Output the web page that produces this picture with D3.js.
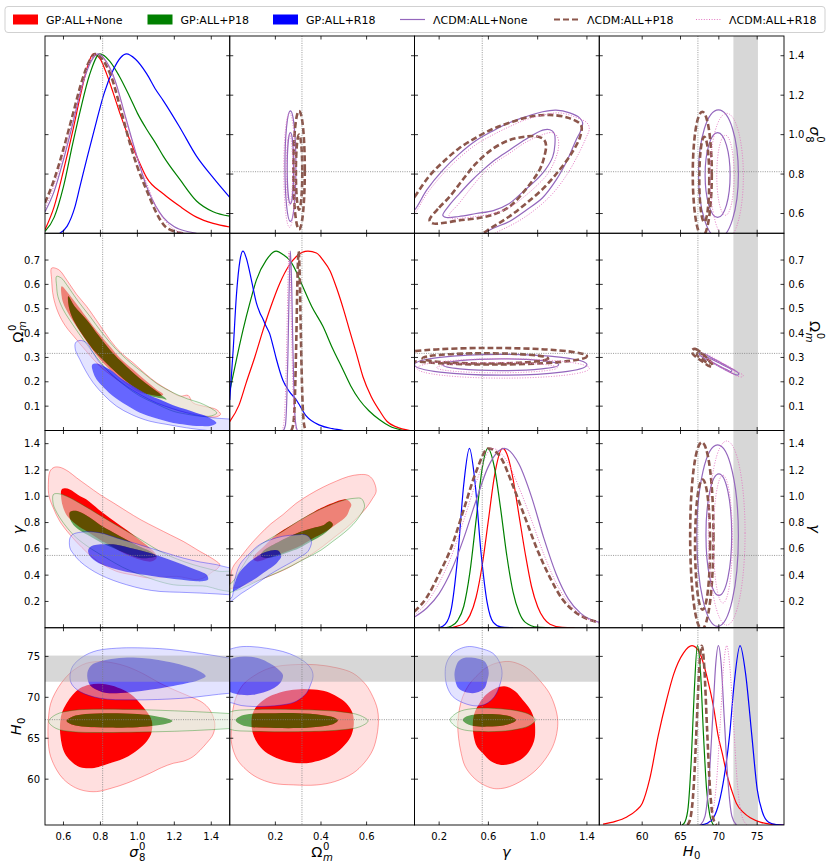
<!DOCTYPE html>
<html>
<head>
<meta charset="utf-8">
<script src="https://cdn.jsdelivr.net/npm/d3@7"></script>
<style>
  body { margin: 0; background: #fff; }
  svg { display: block; font-family: "DejaVu Sans", sans-serif; }
</style>
</head>
<body>
<svg id="chart" width="830" height="866"></svg>
<script>
// ---- axes ----
const params = ["s8", "om", "gamma", "H0"];
const domains = [[0.5, 1.5], [0, 0.81], [0, 1.5], [54.4, 78.5]];
const xTicks = [[0.6, 0.8, 1.0, 1.2, 1.4], [0.2, 0.4, 0.6], [0.2, 0.6, 1.0, 1.4], [60, 65, 70, 75]];
const yTicks = [[0.6, 0.8, 1.0, 1.2, 1.4], [0.1, 0.2, 0.3, 0.4, 0.5, 0.6, 0.7], [0.2, 0.4, 0.6, 0.8, 1.0, 1.2, 1.4], [60, 65, 70, 75]];
const refValues = [0.812, 0.3166, 0.55, 67.27];
const r18Band = [71.9, 75.1];

const gpKeys = ["gpNone", "gpP18", "gpR18"];
const lcKeys = ["lcNone", "lcP18", "lcR18"];
const seriesNames = {
  gpNone: "GP:ALL+None", gpP18: "GP:ALL+P18", gpR18: "GP:ALL+R18",
  lcNone: "ΛCDM:ALL+None", lcP18: "ΛCDM:ALL+P18", lcR18: "ΛCDM:ALL+R18"
};

// ---- 1D marginals: [value, normalised density] ----
const marg_s8 = {
  gpNone: [[0.5,0.02],[0.55,0.15],[0.6,0.35],[0.65,0.57],[0.69,0.76],[0.73,0.93],[0.761,1.0],[0.8,0.97],[0.833,0.89],[0.87,0.78],[0.905,0.67],[0.959,0.52],[1.0,0.42],[1.05,0.31],[1.14,0.22],[1.23,0.15],[1.32,0.09],[1.41,0.055],[1.5,0.035]],
  gpP18: [[0.5,0.01],[0.55,0.09],[0.6,0.26],[0.65,0.5],[0.69,0.68],[0.74,0.88],[0.797,1.0],[0.85,0.96],[0.9,0.88],[0.959,0.76],[1.0,0.67],[1.05,0.58],[1.1,0.5],[1.14,0.43],[1.23,0.3],[1.32,0.18],[1.41,0.12],[1.5,0.095]],
  gpR18: [[0.58,0],[0.62,0.04],[0.66,0.14],[0.689,0.26],[0.73,0.43],[0.78,0.63],[0.82,0.78],[0.869,0.91],[0.91,0.98],[0.941,1.0],[0.99,0.97],[1.05,0.89],[1.1,0.8],[1.14,0.74],[1.23,0.59],[1.32,0.43],[1.41,0.31],[1.5,0.2]],
  lcNone: [[0.5,0.12],[0.55,0.235],[0.6,0.41],[0.65,0.61],[0.7,0.82],[0.75,0.96],[0.788,1.0],[0.83,0.96],[0.88,0.85],[0.93,0.67],[1.0,0.42],[1.05,0.26],[1.1,0.15],[1.14,0.089],[1.2,0.036],[1.27,0.01],[1.32,0]],
  lcP18: [[0.5,0.17],[0.55,0.3],[0.6,0.47],[0.65,0.66],[0.7,0.85],[0.74,0.96],[0.77,1.0],[0.81,0.97],[0.86,0.87],[0.91,0.69],[0.96,0.5],[1.0,0.37],[1.05,0.24],[1.1,0.12],[1.14,0.05],[1.2,0.01],[1.25,0]],
  lcR18: [[0.5,0.14],[0.55,0.27],[0.6,0.44],[0.65,0.63],[0.7,0.82],[0.74,0.95],[0.78,1.0],[0.82,0.97],[0.87,0.87],[0.92,0.7],[0.96,0.55],[1.0,0.42],[1.05,0.28],[1.1,0.15],[1.15,0.07],[1.2,0.02],[1.26,0]]
};
const marg_om = {
  gpNone: [[0,0.05],[0.04,0.14],[0.073,0.27],[0.11,0.41],[0.146,0.56],[0.18,0.69],[0.219,0.82],[0.26,0.92],[0.292,0.97],[0.343,1.0],[0.38,0.99],[0.409,0.95],[0.44,0.89],[0.467,0.8],[0.5,0.67],[0.525,0.56],[0.555,0.43],[0.584,0.3],[0.62,0.19],[0.657,0.11],[0.69,0.05],[0.73,0.02],[0.79,0]],
  gpP18: [[0,0.22],[0.03,0.4],[0.058,0.56],[0.09,0.72],[0.117,0.84],[0.16,0.95],[0.204,1.0],[0.235,0.98],[0.263,0.95],[0.29,0.89],[0.321,0.8],[0.36,0.69],[0.409,0.58],[0.45,0.46],[0.496,0.34],[0.53,0.25],[0.569,0.17],[0.61,0.11],[0.657,0.06],[0.7,0.025],[0.76,0]],
  gpR18: [[0,0.17],[0.015,0.45],[0.029,0.75],[0.045,0.95],[0.058,1.0],[0.073,0.96],[0.088,0.88],[0.103,0.79],[0.117,0.71],[0.131,0.66],[0.146,0.62],[0.16,0.58],[0.175,0.54],[0.19,0.47],[0.204,0.4],[0.233,0.28],[0.26,0.22],[0.292,0.17],[0.336,0.08],[0.394,0.03],[0.45,0.01],[0.5,0]],
  lcNone: [[0.235,0],[0.244,0.03],[0.25,0.17],[0.255,0.42],[0.26,0.76],[0.266,1.0],[0.272,0.78],[0.277,0.45],[0.282,0.19],[0.288,0.05],[0.296,0]],
  lcP18: [[0.27,0],[0.279,0.04],[0.286,0.2],[0.292,0.52],[0.297,0.85],[0.302,1.0],[0.307,0.85],[0.312,0.52],[0.318,0.2],[0.325,0.04],[0.334,0]],
  lcR18: [[0.228,0],[0.237,0.04],[0.244,0.2],[0.25,0.5],[0.255,0.82],[0.26,1.0],[0.266,0.82],[0.272,0.5],[0.278,0.2],[0.284,0.05],[0.293,0]]
};
const marg_gamma = {
  gpNone: [[0.3,0],[0.35,0.01],[0.4,0.023],[0.45,0.069],[0.5,0.17],[0.55,0.35],[0.6,0.6],[0.65,0.85],[0.716,1.0],[0.76,0.95],[0.8,0.83],[0.85,0.62],[0.9,0.41],[0.95,0.23],[1.0,0.117],[1.05,0.052],[1.1,0.02],[1.2,0.002],[1.3,0]],
  gpP18: [[0.25,0],[0.3,0.01],[0.35,0.04],[0.4,0.12],[0.45,0.31],[0.5,0.6],[0.55,0.89],[0.595,1.0],[0.65,0.89],[0.7,0.66],[0.75,0.4],[0.8,0.2],[0.85,0.085],[0.9,0.03],[1.0,0.003],[1.1,0]],
  gpR18: [[0.2,0],[0.25,0.02],[0.3,0.11],[0.35,0.39],[0.4,0.8],[0.446,1.0],[0.49,0.82],[0.54,0.42],[0.59,0.14],[0.64,0.03],[0.7,0.005],[0.8,0]],
  lcNone: [[0,0.06],[0.1,0.11],[0.2,0.19],[0.3,0.32],[0.4,0.5],[0.5,0.71],[0.6,0.9],[0.73,1.0],[0.85,0.91],[0.95,0.73],[1.05,0.5],[1.15,0.3],[1.25,0.16],[1.35,0.08],[1.5,0.03]],
  lcP18: [[0,0.09],[0.1,0.17],[0.2,0.3],[0.3,0.45],[0.4,0.66],[0.5,0.87],[0.6,1.0],[0.7,0.95],[0.8,0.79],[0.9,0.61],[1.0,0.43],[1.1,0.28],[1.2,0.16],[1.3,0.09],[1.4,0.05],[1.5,0.03]],
  lcR18: [[0,0.07],[0.1,0.14],[0.2,0.25],[0.3,0.4],[0.4,0.6],[0.5,0.81],[0.63,1.0],[0.75,0.93],[0.85,0.78],[0.95,0.6],[1.05,0.41],[1.15,0.25],[1.25,0.14],[1.35,0.07],[1.5,0.03]]
};
const marg_H0 = {
  gpNone: [[54.9,0.005],[56.5,0.02],[58,0.045],[59.2,0.08],[60,0.12],[61,0.26],[62.1,0.5],[63.2,0.7],[64.1,0.84],[65.4,0.96],[66.5,1.0],[67.5,0.96],[68.6,0.8],[69.3,0.66],[69.9,0.5],[70.5,0.39],[71.0,0.29],[71.7,0.19],[72.3,0.12],[73.2,0.07],[74.1,0.04],[75.5,0.015],[76.7,0.005],[78.5,0]],
  gpP18: [[65.2,0],[65.6,0.02],[66.0,0.1],[66.4,0.36],[66.8,0.75],[67.2,1.0],[67.6,0.86],[68.0,0.5],[68.4,0.2],[68.8,0.06],[69.3,0]],
  gpR18: [[67.5,0],[68.5,0.01],[69.3,0.04],[70.0,0.12],[70.7,0.27],[71.4,0.5],[72.0,0.79],[72.77,1.0],[73.5,0.84],[74.3,0.5],[75.0,0.2],[75.7,0.07],[76.5,0.015],[77.5,0.002],[78.5,0]],
  lcNone: [[67.6,0],[68.2,0.05],[68.7,0.24],[69.2,0.6],[69.6,0.9],[69.94,1.0],[70.3,0.9],[70.7,0.6],[71.2,0.24],[71.7,0.05],[72.3,0]],
  lcP18: [[65.9,0],[66.3,0.04],[66.7,0.2],[67.1,0.55],[67.45,0.88],[67.78,1.0],[68.1,0.88],[68.45,0.55],[68.85,0.2],[69.25,0.04],[69.7,0]],
  lcR18: [[68.5,0],[69.1,0.05],[69.7,0.24],[70.2,0.58],[70.65,0.9],[71.03,1.0],[71.4,0.9],[71.9,0.58],[72.4,0.24],[73.0,0.05],[73.7,0]]
};

// ---- GP 2D contours (lower triangle): [outer 95%, inner 68%], points [column value, row value] ----
const gp_om_s8 = {
  gpNone: [
    [[0.536,0.667],[0.575,0.66],[0.617,0.619],[0.67,0.56],[0.725,0.51],[0.79,0.44],[0.851,0.373],[0.91,0.32],[0.977,0.278],[1.04,0.235],[1.104,0.196],[1.17,0.165],[1.23,0.141],[1.275,0.144],[1.3,0.114],[1.37,0.098],[1.428,0.086],[1.45,0.066],[1.42,0.055],[1.374,0.059],[1.3,0.07],[1.23,0.079],[1.15,0.1],[1.068,0.127],[1.0,0.155],[0.942,0.182],[0.87,0.22],[0.797,0.264],[0.73,0.32],[0.671,0.373],[0.61,0.43],[0.572,0.483],[0.545,0.55],[0.536,0.619]],
    [[0.59,0.592],[0.63,0.56],[0.67,0.52],[0.707,0.483],[0.78,0.41],[0.851,0.346],[0.91,0.295],[0.977,0.25],[1.04,0.208],[1.104,0.168],[1.14,0.148],[1.12,0.142],[1.05,0.15],[1.014,0.155],[0.94,0.19],[0.869,0.237],[0.8,0.29],[0.743,0.346],[0.69,0.405],[0.635,0.469],[0.6,0.52],[0.59,0.551]]
  ],
  gpP18: [
    [[0.563,0.633],[0.59,0.625],[0.617,0.599],[0.68,0.53],[0.743,0.469],[0.81,0.4],[0.887,0.332],[0.96,0.28],[1.031,0.237],[1.11,0.19],[1.194,0.155],[1.27,0.13],[1.338,0.114],[1.41,0.086],[1.43,0.072],[1.4,0.06],[1.338,0.059],[1.26,0.068],[1.194,0.079],[1.1,0.11],[1.014,0.141],[0.93,0.185],[0.851,0.237],[0.78,0.3],[0.707,0.373],[0.65,0.435],[0.599,0.496],[0.57,0.55],[0.563,0.592]],
    [[0.626,0.551],[0.66,0.51],[0.725,0.455],[0.79,0.39],[0.851,0.332],[0.91,0.285],[0.977,0.237],[1.04,0.197],[1.104,0.161],[1.158,0.127],[1.13,0.132],[1.07,0.142],[1.031,0.155],[0.96,0.19],[0.887,0.237],[0.82,0.285],[0.761,0.332],[0.71,0.385],[0.662,0.442],[0.635,0.49],[0.626,0.524]]
  ],
  gpR18: [
    [[0.665,0.36],[0.69,0.37],[0.725,0.36],[0.76,0.32],[0.797,0.278],[0.87,0.225],[0.942,0.182],[1.02,0.145],[1.104,0.113],[1.19,0.09],[1.266,0.073],[1.34,0.06],[1.41,0.052],[1.5,0.047],[1.6,0.04],[1.6,-0.02],[1.5,-0.01],[1.38,0.0],[1.266,0.011],[1.16,0.025],[1.068,0.038],[0.97,0.065],[0.887,0.1],[0.82,0.145],[0.761,0.196],[0.72,0.245],[0.689,0.291],[0.665,0.33]],
    [[0.755,0.27],[0.78,0.275],[0.851,0.25],[0.91,0.215],[0.977,0.182],[1.05,0.15],[1.122,0.127],[1.19,0.105],[1.266,0.086],[1.32,0.072],[1.374,0.059],[1.428,0.031],[1.4,0.02],[1.338,0.018],[1.26,0.024],[1.194,0.031],[1.1,0.05],[1.014,0.073],[0.94,0.105],[0.869,0.141],[0.82,0.175],[0.779,0.209],[0.76,0.24]]
  ]
};
const gp_gamma_s8 = {
  gpNone: [
    [[0.527,1.19],[0.55,1.22],[0.581,1.22],[0.625,1.19],[0.671,1.14],[0.73,1.08],[0.797,1.013],[0.87,0.95],[0.942,0.886],[1.02,0.82],[1.104,0.759],[1.18,0.705],[1.248,0.657],[1.338,0.581],[1.39,0.54],[1.428,0.505],[1.446,0.48],[1.43,0.445],[1.41,0.429],[1.36,0.38],[1.32,0.366],[1.26,0.38],[1.212,0.391],[1.14,0.385],[1.068,0.378],[0.98,0.4],[0.887,0.429],[0.82,0.475],[0.761,0.53],[0.7,0.61],[0.635,0.708],[0.58,0.81],[0.545,0.911],[0.522,1.0],[0.518,1.089]],
    [[0.59,1.051],[0.61,1.06],[0.635,1.051],[0.68,1.01],[0.725,0.975],[0.79,0.9],[0.851,0.835],[0.915,0.77],[0.977,0.708],[1.03,0.65],[1.068,0.607],[1.1,0.56],[1.104,0.53],[1.08,0.505],[1.05,0.505],[0.98,0.535],[0.923,0.569],[0.86,0.62],[0.797,0.67],[0.73,0.73],[0.671,0.784],[0.62,0.85],[0.599,0.911],[0.588,0.98]]
  ],
  gpP18: [
    [[0.545,1.013],[0.57,1.02],[0.617,1.0],[0.69,0.945],[0.761,0.886],[0.85,0.81],[0.942,0.734],[1.03,0.66],[1.122,0.581],[1.21,0.525],[1.302,0.48],[1.38,0.45],[1.446,0.429],[1.5,0.43],[1.6,0.42],[1.6,0.27],[1.5,0.276],[1.44,0.29],[1.374,0.315],[1.28,0.32],[1.194,0.327],[1.1,0.36],[1.014,0.404],[0.92,0.46],[0.833,0.53],[0.75,0.6],[0.671,0.683],[0.62,0.76],[0.581,0.835],[0.555,0.9],[0.545,0.937]],
    [[0.635,0.88],[0.66,0.89],[0.689,0.88],[0.74,0.84],[0.797,0.784],[0.87,0.725],[0.942,0.67],[1.0,0.625],[1.068,0.581],[1.1,0.55],[1.104,0.543],[1.06,0.53],[1.014,0.53],[0.94,0.565],[0.869,0.607],[0.8,0.65],[0.743,0.696],[0.69,0.74],[0.653,0.784],[0.635,0.83]]
  ],
  gpR18: [
    [[0.635,0.683],[0.65,0.71],[0.671,0.721],[0.72,0.73],[0.761,0.729],[0.82,0.715],[0.887,0.683],[0.98,0.645],[1.068,0.607],[1.16,0.567],[1.248,0.53],[1.34,0.5],[1.428,0.48],[1.5,0.455],[1.6,0.44],[1.6,0.245],[1.5,0.251],[1.42,0.258],[1.338,0.264],[1.23,0.27],[1.122,0.276],[1.03,0.295],[0.942,0.327],[0.87,0.36],[0.797,0.404],[0.74,0.45],[0.689,0.505],[0.655,0.56],[0.635,0.607]],
    [[0.734,0.594],[0.75,0.62],[0.779,0.632],[0.83,0.635],[0.887,0.632],[0.98,0.6],[1.068,0.569],[1.16,0.525],[1.248,0.48],[1.32,0.44],[1.374,0.404],[1.383,0.366],[1.35,0.353],[1.32,0.353],[1.24,0.365],[1.158,0.378],[1.07,0.395],[0.977,0.416],[0.9,0.44],[0.833,0.467],[0.78,0.5],[0.752,0.53],[0.736,0.565]]
  ]
};
const gp_gamma_om = {
  gpNone: [
    [[0.0,0.32],[0.007,0.429],[0.02,0.48],[0.044,0.53],[0.09,0.63],[0.131,0.708],[0.18,0.79],[0.233,0.86],[0.29,0.945],[0.35,1.013],[0.41,1.07],[0.467,1.115],[0.52,1.15],[0.569,1.165],[0.605,1.16],[0.627,1.127],[0.642,1.038],[0.625,0.98],[0.598,0.911],[0.555,0.83],[0.511,0.759],[0.46,0.69],[0.408,0.619],[0.36,0.56],[0.306,0.505],[0.25,0.45],[0.19,0.404],[0.14,0.37],[0.088,0.34],[0.04,0.31],[0.015,0.302],[-0.02,0.29]],
    [[0.102,0.53],[0.15,0.62],[0.204,0.708],[0.27,0.78],[0.336,0.848],[0.4,0.91],[0.452,0.949],[0.511,0.975],[0.533,0.937],[0.525,0.9],[0.511,0.848],[0.47,0.79],[0.423,0.734],[0.36,0.675],[0.306,0.619],[0.25,0.58],[0.19,0.543],[0.117,0.505]]
  ],
  gpP18: [
    [[-0.02,0.3],[0.015,0.353],[0.05,0.45],[0.102,0.581],[0.16,0.66],[0.233,0.734],[0.3,0.81],[0.38,0.886],[0.45,0.94],[0.511,0.975],[0.55,0.985],[0.577,0.982],[0.591,0.924],[0.57,0.85],[0.54,0.784],[0.5,0.72],[0.452,0.657],[0.4,0.59],[0.336,0.53],[0.27,0.47],[0.204,0.416],[0.14,0.37],[0.088,0.327],[0.04,0.29],[0.015,0.276],[-0.02,0.26]],
    [[0.146,0.581],[0.2,0.64],[0.248,0.683],[0.31,0.73],[0.365,0.759],[0.41,0.78],[0.438,0.81],[0.452,0.784],[0.435,0.745],[0.408,0.708],[0.36,0.66],[0.306,0.607],[0.25,0.57],[0.204,0.543],[0.16,0.53],[0.135,0.545]]
  ],
  gpR18: [
    [[-0.03,0.2],[0.007,0.226],[0.02,0.35],[0.044,0.48],[0.09,0.57],[0.131,0.632],[0.18,0.67],[0.233,0.696],[0.29,0.706],[0.336,0.704],[0.358,0.657],[0.343,0.581],[0.31,0.54],[0.277,0.505],[0.22,0.45],[0.175,0.404],[0.13,0.35],[0.088,0.302],[0.05,0.26],[0.015,0.213],[-0.03,0.16]],
    [[0.015,0.276],[0.035,0.4],[0.073,0.48],[0.11,0.53],[0.146,0.569],[0.19,0.59],[0.212,0.587],[0.226,0.543],[0.21,0.5],[0.19,0.467],[0.15,0.42],[0.117,0.378],[0.08,0.34],[0.044,0.302],[0.02,0.28]]
  ]
};
const gp_H0_s8 = {
  gpNone: [
    [[0.518,67.24],[0.53,69.2],[0.554,70.5],[0.59,71.8],[0.635,72.95],[0.68,73.7],[0.725,74.17],[0.797,74.38],[0.87,74.2],[0.942,73.77],[1.03,72.9],[1.122,71.73],[1.2,70.9],[1.284,70.1],[1.35,69.4],[1.392,68.47],[1.419,66.84],[1.41,65.5],[1.374,64.39],[1.302,62.76],[1.25,62.2],[1.194,61.94],[1.13,61.4],[1.068,60.72],[0.942,59.5],[0.86,58.9],[0.779,58.48],[0.71,58.6],[0.653,59.09],[0.6,60.0],[0.563,61.13],[0.53,62.8],[0.518,64.39]],
    [[0.581,66.43],[0.59,68.0],[0.617,69.28],[0.65,70.3],[0.689,71.12],[0.74,71.55],[0.797,71.65],[0.86,71.45],[0.923,70.92],[0.975,70.2],[1.014,69.28],[1.05,68.3],[1.077,67.24],[1.08,66.2],[1.068,65.2],[1.03,64.1],[0.977,63.16],[0.92,62.45],[0.851,61.94],[0.79,61.5],[0.743,61.33],[0.69,61.45],[0.653,61.94],[0.62,62.7],[0.599,63.57],[0.585,65.0]]
  ],
  gpP18: [
    [[0.52,67.05],[0.56,67.9],[0.65,68.4],[0.8,68.55],[1.0,68.5],[1.2,68.35],[1.4,68.15],[1.6,67.8],[1.75,67.1],[1.6,66.4],[1.4,66.05],[1.2,65.85],[1.0,65.75],[0.8,65.7],[0.65,65.8],[0.56,66.2]],
    [[0.617,67.12],[0.65,67.65],[0.72,67.95],[0.85,68.06],[1.0,67.95],[1.1,67.7],[1.17,67.35],[1.19,67.12],[1.17,66.85],[1.1,66.55],[1.0,66.35],[0.85,66.3],[0.72,66.4],[0.65,66.65]]
  ],
  gpR18: [
    [[0.635,72.5],[0.65,73.8],[0.707,74.99],[0.78,75.7],[0.887,76.0],[1.0,76.05],[1.158,75.89],[1.3,75.5],[1.5,74.79],[1.7,74.0],[1.7,70.7],[1.5,70.5],[1.248,69.89],[0.977,69.69],[0.797,69.89],[0.689,70.7],[0.645,71.6]],
    [[0.729,72.98],[0.75,73.9],[0.797,74.38],[0.88,74.75],[0.977,74.87],[1.07,74.7],[1.158,74.38],[1.25,73.9],[1.32,73.36],[1.37,72.57],[1.33,72.1],[1.266,71.73],[1.17,71.3],[1.068,70.92],[0.977,70.65],[0.887,70.5],[0.82,70.6],[0.779,70.92],[0.74,71.6]]
  ]
};
const gp_H0_om = {
  gpNone: [
    [[0.007,66.02],[0.012,68.2],[0.029,70.1],[0.06,71.6],[0.102,72.55],[0.15,73.3],[0.204,73.77],[0.29,74.0],[0.38,73.98],[0.47,73.6],[0.54,72.95],[0.595,71.6],[0.627,70.1],[0.647,68.6],[0.652,67.24],[0.645,65.3],[0.627,63.57],[0.59,62.0],[0.54,60.72],[0.46,59.7],[0.38,59.29],[0.28,59.3],[0.19,59.5],[0.12,60.2],[0.073,61.13],[0.035,62.3],[0.015,63.57],[0.006,64.8]],
    [[0.095,66.84],[0.1,68.0],[0.117,68.88],[0.15,69.7],[0.19,70.3],[0.25,70.8],[0.306,71.0],[0.37,70.95],[0.423,70.71],[0.47,70.1],[0.511,69.28],[0.538,68.1],[0.544,66.84],[0.535,65.5],[0.511,64.39],[0.47,63.3],[0.423,62.55],[0.36,62.05],[0.306,61.94],[0.25,62.15],[0.19,62.76],[0.145,63.6],[0.117,64.6],[0.1,65.7]]
  ],
  gpP18: [
    [[-0.05,67.1],[0.0,68.2],[0.1,68.5],[0.3,68.5],[0.48,68.25],[0.57,67.8],[0.606,67.1],[0.57,66.4],[0.48,66.0],[0.3,65.8],[0.1,65.85],[0.0,66.1]],
    [[0.026,67.2],[0.05,67.75],[0.1,68.0],[0.2,68.06],[0.3,68.05],[0.4,67.85],[0.455,67.55],[0.474,67.16],[0.455,66.75],[0.4,66.45],[0.3,66.25],[0.2,66.25],[0.1,66.35],[0.05,66.65]]
  ],
  gpR18: [
    [[-0.06,73.0],[-0.02,75.5],[0.03,76.1],[0.088,76.21],[0.16,76.0],[0.233,75.6],[0.29,75.0],[0.336,74.17],[0.36,73.3],[0.365,72.55],[0.355,71.6],[0.336,70.5],[0.29,69.5],[0.233,69.08],[0.16,68.9],[0.102,68.88],[0.05,69.0],[0.015,69.28],[-0.04,69.8]],
    [[-0.04,72.5],[-0.01,74.4],[0.03,74.9],[0.073,74.99],[0.13,74.75],[0.175,74.17],[0.21,73.5],[0.233,72.75],[0.225,71.9],[0.204,71.32],[0.16,70.7],[0.102,70.3],[0.05,70.3],[0.015,70.5],[-0.02,71.0]]
  ]
};
const gp_H0_gamma = {
  gpNone: [
    [[0.351,66.83],[0.365,68.6],[0.392,70.09],[0.44,71.5],[0.5,72.54],[0.58,73.6],[0.662,74.17],[0.77,74.38],[0.86,74.0],[0.933,73.36],[1.02,72.0],[1.095,70.51],[1.14,68.9],[1.163,67.24],[1.155,65.6],[1.122,63.97],[1.06,62.4],[0.987,61.12],[0.88,59.9],[0.77,59.08],[0.7,58.85],[0.635,58.88],[0.55,59.4],[0.473,60.3],[0.41,61.6],[0.379,63.16],[0.358,65.0]],
    [[0.473,66.42],[0.485,68.0],[0.527,69.28],[0.58,70.3],[0.635,70.91],[0.69,71.3],[0.744,71.32],[0.82,70.7],[0.878,69.69],[0.94,68.5],[0.973,67.24],[0.98,66.0],[0.973,64.79],[0.935,63.5],[0.878,62.55],[0.79,61.9],[0.703,61.73],[0.62,62.2],[0.554,63.16],[0.51,63.9],[0.487,64.79]]
  ],
  gpP18: [
    [[0.289,67.24],[0.32,67.85],[0.38,68.35],[0.5,68.65],[0.7,68.6],[0.85,68.3],[0.94,67.85],[0.981,67.24],[0.94,66.6],[0.85,66.15],[0.7,65.85],[0.5,65.85],[0.38,66.1],[0.32,66.6]],
    [[0.392,67.24],[0.42,67.65],[0.48,67.88],[0.6,67.95],[0.72,67.85],[0.79,67.6],[0.825,67.24],[0.79,66.85],[0.72,66.55],[0.6,66.42],[0.48,66.5],[0.42,66.8]]
  ],
  gpR18: [
    [[0.249,72.75],[0.26,74.2],[0.311,75.4],[0.38,76.0],[0.446,76.21],[0.53,76.0],[0.635,75.4],[0.69,74.3],[0.711,72.95],[0.69,71.4],[0.649,70.09],[0.58,69.2],[0.5,68.95],[0.4,69.3],[0.311,70.09],[0.265,71.3]],
    [[0.324,72.75],[0.335,73.7],[0.357,74.4],[0.4,74.8],[0.446,74.87],[0.51,74.75],[0.568,74.4],[0.595,73.7],[0.603,72.95],[0.59,72.0],[0.568,71.1],[0.52,70.65],[0.473,70.51],[0.41,70.65],[0.357,71.1],[0.333,71.9]]
  ]
};

// ---- ΛCDM 2D contours (upper triangle): [outer, inner]; ellipses {c:[centre], r:[radii]} or point lists ----
const lc_s8_om = {
  lcNone: [{c:[0.266,0.84], r:[0.024,0.28]}, {c:[0.266,0.83], r:[0.014,0.18]}],
  lcP18:  [{c:[0.304,0.82], r:[0.025,0.30]}, {c:[0.304,0.81], r:[0.014,0.19]}],
  lcR18:  [{c:[0.262,0.82], r:[0.025,0.29]}, {c:[0.262,0.82], r:[0.014,0.18]}]
};
const lc_s8_gamma = {
  lcNone: [
    [[-0.1,0.56],[0.0,0.617],[0.1,0.72],[0.23,0.82],[0.36,0.9],[0.5,0.97],[0.64,1.02],[0.77,1.06],[0.9,1.09],[1.041,1.116],[1.149,1.124],[1.26,1.11],[1.34,1.085],[1.365,1.06],[1.35,1.02],[1.311,0.972],[1.24,0.87],[1.149,0.769],[1.04,0.68],[0.906,0.617],[0.77,0.56],[0.635,0.524],[0.5,0.48],[0.3,0.44],[0.1,0.43],[-0.1,0.45]],
    [[0.23,0.591],[0.28,0.64],[0.365,0.701],[0.46,0.765],[0.554,0.82],[0.66,0.875],[0.77,0.921],[0.9,0.975],[1.041,1.023],[1.1,1.025],[1.135,1.006],[1.14,0.95],[1.122,0.887],[1.06,0.82],[0.987,0.769],[0.88,0.71],[0.77,0.651],[0.64,0.615],[0.5,0.6],[0.36,0.585],[0.26,0.58]]
  ],
  lcP18: [
    [[-0.15,0.55],[0.0,0.684],[0.12,0.79],[0.23,0.86],[0.36,0.93],[0.5,0.985],[0.64,1.03],[0.77,1.06],[0.93,1.09],[1.095,1.1],[1.25,1.085],[1.352,1.048],[1.345,0.99],[1.27,0.9],[1.176,0.82],[1.05,0.73],[0.906,0.651],[0.77,0.585],[0.635,0.532],[0.5,0.48],[0.3,0.43],[0.1,0.42],[-0.1,0.45]],
    [[0.122,0.566],[0.2,0.63],[0.284,0.684],[0.39,0.77],[0.5,0.854],[0.64,0.93],[0.77,0.972],[0.9,0.99],[0.987,0.992],[1.05,0.975],[1.068,0.947],[1.05,0.88],[1.014,0.82],[0.9,0.72],[0.77,0.634],[0.64,0.595],[0.5,0.575],[0.36,0.565],[0.23,0.552],[0.15,0.55]]
  ],
  lcR18: [
    [[-0.1,0.54],[0.0,0.6],[0.1,0.7],[0.23,0.8],[0.36,0.88],[0.5,0.95],[0.64,1.0],[0.77,1.04],[0.9,1.075],[1.05,1.1],[1.18,1.11],[1.3,1.09],[1.4,1.06],[1.419,1.03],[1.39,0.98],[1.33,0.9],[1.24,0.8],[1.12,0.7],[0.98,0.62],[0.84,0.56],[0.7,0.515],[0.55,0.47],[0.35,0.43],[0.1,0.42],[-0.1,0.44]],
    [[0.28,0.59],[0.36,0.65],[0.46,0.73],[0.554,0.8],[0.66,0.86],[0.77,0.905],[0.9,0.96],[1.04,1.0],[1.12,1.01],[1.16,0.99],[1.17,0.94],[1.14,0.87],[1.08,0.8],[0.99,0.74],[0.88,0.68],[0.77,0.63],[0.64,0.6],[0.5,0.585],[0.36,0.575],[0.3,0.575]]
  ]
};
const lc_s8_H0 = {
  lcNone: [{c:[69.95,0.80], r:[2.6,0.325]}, {c:[69.84,0.795], r:[1.63,0.215]}],
  lcP18:  [{c:[67.84,0.80], r:[1.24,0.316]}, {c:[68.1,0.773], r:[0.65,0.216]}],
  lcR18:  [{c:[71.03,0.79], r:[2.17,0.318]}, {c:[70.86,0.794], r:[1.13,0.203]}]
};
const lc_om_gamma = {
  lcNone: [{c:[0.7,0.27], r:[0.7,0.043]}, {c:[0.7,0.27], r:[0.47,0.024]}],
  lcP18:  [{c:[0.62,0.305], r:[0.78,0.034]}, {c:[0.575,0.296], r:[0.51,0.021]}],
  lcR18:  [{c:[0.72,0.255], r:[0.7,0.04]}, {c:[0.67,0.258], r:[0.49,0.021]}]
};
const lc_om_H0 = {
  lcNone: [
    [[67.5,0.318],[68.0,0.316],[69.0,0.3],[70.0,0.283],[71.0,0.266],[72.0,0.248],[72.6,0.234],[72.5,0.228],[71.8,0.234],[70.8,0.25],[69.8,0.267],[68.8,0.284],[68.0,0.298],[67.5,0.31]],
    [[68.4,0.3],[69.0,0.294],[70.0,0.278],[71.0,0.262],[71.7,0.247],[71.6,0.242],[71.0,0.25],[70.0,0.266],[69.0,0.283],[68.45,0.293]]
  ],
  lcP18: [
    [[66.5,0.33],[66.9,0.335],[67.6,0.322],[68.4,0.3],[69.1,0.275],[69.2,0.264],[68.8,0.264],[68.0,0.28],[67.2,0.298],[66.6,0.315]],
    [[67.2,0.318],[67.6,0.318],[68.2,0.302],[68.8,0.283],[68.8,0.275],[68.4,0.28],[67.8,0.294],[67.2,0.308]]
  ],
  lcR18: [
    [[67.9,0.316],[68.5,0.312],[69.5,0.295],[70.5,0.277],[71.5,0.26],[72.5,0.24],[73.2,0.226],[73.0,0.22],[72.2,0.226],[71.2,0.242],[70.2,0.26],[69.2,0.278],[68.3,0.296],[67.9,0.306]],
    [[68.8,0.295],[69.5,0.288],[70.5,0.272],[71.5,0.254],[72.1,0.242],[71.9,0.238],[71.2,0.246],[70.2,0.262],[69.3,0.278],[68.8,0.288]]
  ]
};
const lc_gamma_H0 = {
  lcNone: [{c:[69.84,0.70], r:[2.71,0.69]}, {c:[70.0,0.708], r:[1.68,0.462]}],
  lcP18:  [{c:[67.78,0.70], r:[1.52,0.71]}, {c:[67.88,0.632], r:[0.98,0.495]}],
  lcR18:  [{c:[71.03,0.72], r:[2.39,0.70]}, {c:[70.53,0.674], r:[1.24,0.486]}]
};

const marginals = [marg_s8, marg_om, marg_gamma, marg_H0];
const lower = { "10": gp_om_s8, "20": gp_gamma_s8, "21": gp_gamma_om, "30": gp_H0_s8, "31": gp_H0_om, "32": gp_H0_gamma };
const upper = { "01": lc_s8_om, "02": lc_s8_gamma, "03": lc_s8_H0, "12": lc_om_gamma, "13": lc_om_H0, "23": lc_gamma_H0 };

// ---- styles ----
const gpStyle = {
  gpNone: { color: "#ff0000", light: "#ffc0c0", lightOp: 0.5, innerOp: 1.0 },
  gpP18:  { color: "#008000", light: "#e0ecd8", lightOp: 0.55, innerOp: 0.62 },
  gpR18:  { color: "#0000ff", light: "#c8c8ff", lightOp: 0.5, innerOp: 0.6 }
};
const lcStyle = {
  lcNone: { color: "#9467bd", width: 1.2, dash: null },
  lcP18:  { color: "#8c564b", width: 2.6, dash: "6,3" },
  lcR18:  { color: "#e377c2", width: 1.0, dash: "1,1.6" }
};

// ---- layout ----
const svg = d3.select("#chart");
const marginL = 45, marginT = 36, pw = 184.75, ph = 197.25;
const xs = domains.map((d, k) => d3.scaleLinear().domain(d).range([marginL + k * pw, marginL + (k + 1) * pw]));
const ys = domains.map((d, k) => d3.scaleLinear().domain(d).range([marginT + (k + 1) * ph, marginT + k * ph]));
const dens = i => d3.scaleLinear().domain([0, 1.1]).range([marginT + (i + 1) * ph, marginT + i * ph]);
const fmt = d3.format(".1f");
const fmtH = d3.format("d");
const tickFmt = k => (k === 3 ? fmtH : fmt);

const defs = svg.append("defs");

const closedLine = (x, y) => d3.line().x(p => x(p[0])).y(p => y(p[1])).curve(d3.curveCatmullRomClosed.alpha(0.5));

function shape(g, spec, x, y) {
  if (Array.isArray(spec)) return g.append("path").attr("d", closedLine(x, y)(spec));
  return g.append("ellipse")
    .attr("cx", x(spec.c[0])).attr("cy", y(spec.c[1]))
    .attr("rx", Math.abs(x(spec.c[0] + spec.r[0]) - x(spec.c[0])))
    .attr("ry", Math.abs(y(spec.c[1] + spec.r[1]) - y(spec.c[1])));
}

for (let i = 0; i < 4; i++) {
  for (let j = 0; j < 4; j++) {
    const x0 = marginL + j * pw, y0 = marginT + i * ph;
    defs.append("clipPath").attr("id", `clip${i}${j}`)
      .append("rect").attr("x", x0).attr("y", y0).attr("width", pw).attr("height", ph);
    const g = svg.append("g").attr("clip-path", `url(#clip${i}${j})`);
    const x = xs[j], y = ys[i];

    if (i > j) {
      const data = lower[`${i}${j}`];
      const cl = closedLine(x, y);
      gpKeys.forEach(k => {
        const st = gpStyle[k];
        const [outer, inner] = data[k];
        // 68%-95% ring (outer minus inner), then the 68% core
        g.append("path").attr("d", cl(outer) + cl(inner)).attr("fill-rule", "evenodd")
          .attr("fill", st.light).attr("fill-opacity", st.lightOp);
        g.append("path").attr("d", cl(outer)).attr("fill", "none")
          .attr("stroke", st.color).attr("stroke-opacity", 0.45).attr("stroke-width", 0.8);
        g.append("path").attr("d", cl(inner))
          .attr("fill", st.color).attr("fill-opacity", st.innerOp);
      });
    }

    // R18 H0 band
    if (j === 3) {
      g.append("rect").attr("x", x(r18Band[0])).attr("width", x(r18Band[1]) - x(r18Band[0]))
        .attr("y", y0).attr("height", ph).attr("fill", "#a6a6a6").attr("fill-opacity", 0.45);
    } else if (i === 3) {
      g.append("rect").attr("y", y(r18Band[1])).attr("height", y(r18Band[0]) - y(r18Band[1]))
        .attr("x", x0).attr("width", pw).attr("fill", "#a6a6a6").attr("fill-opacity", 0.45);
    }

    if (i === j) {
      const dy = dens(i);
      const line = d3.line().x(p => x(p[0])).y(p => dy(p[1])).curve(d3.curveMonotoneX);
      const m = marginals[i];
      gpKeys.forEach(k => {
        g.append("path").attr("d", line(m[k])).attr("fill", "none")
          .attr("stroke", gpStyle[k].color).attr("stroke-width", 1.2);
      });
      lcKeys.forEach(k => {
        const st = lcStyle[k];
        g.append("path").attr("d", line(m[k])).attr("fill", "none")
          .attr("stroke", st.color).attr("stroke-width", st.width)
          .attr("stroke-dasharray", st.dash);
      });
    }

    if (i < j) {
      const data = upper[`${i}${j}`];
      lcKeys.forEach(k => {
        const st = lcStyle[k];
        data[k].forEach(c => {
          shape(g, c, x, y).attr("fill", "none")
            .attr("stroke", st.color).attr("stroke-width", st.width)
            .attr("stroke-dasharray", st.dash);
        });
      });
    }

    // reference (Planck) lines
    g.append("line").attr("x1", x(refValues[j])).attr("x2", x(refValues[j]))
      .attr("y1", y0).attr("y2", y0 + ph)
      .attr("stroke", "#7f7f7f").attr("stroke-width", 0.8).attr("stroke-dasharray", "1,1.3");
    if (i !== j) {
      g.append("line").attr("y1", y(refValues[i])).attr("y2", y(refValues[i]))
        .attr("x1", x0).attr("x2", x0 + pw)
        .attr("stroke", "#7f7f7f").attr("stroke-width", 0.8).attr("stroke-dasharray", "1,1.3");
    }

    // frame + inward ticks on all sides
    const f = svg.append("g");
    f.append("rect").attr("x", x0).attr("y", y0).attr("width", pw).attr("height", ph)
      .attr("fill", "none").attr("stroke", "#000").attr("stroke-width", 0.9);
    const tl = 3.5;
    xTicks[j].forEach(v => {
      const px = x(v);
      f.append("line").attr("x1", px).attr("x2", px).attr("y1", y0 + ph).attr("y2", y0 + ph - tl).attr("stroke", "#000").attr("stroke-width", 0.8);
      f.append("line").attr("x1", px).attr("x2", px).attr("y1", y0).attr("y2", y0 + tl).attr("stroke", "#000").attr("stroke-width", 0.8);
      if (i === 3) {
        f.append("text").attr("x", px).attr("y", y0 + ph + 14.5).attr("text-anchor", "middle")
          .attr("font-size", 10).text(tickFmt(j)(v));
      }
    });
    yTicks[i].forEach(v => {
      const py = y(v);
      f.append("line").attr("y1", py).attr("y2", py).attr("x1", x0).attr("x2", x0 + tl).attr("stroke", "#000").attr("stroke-width", 0.8);
      f.append("line").attr("y1", py).attr("y2", py).attr("x1", x0 + pw).attr("x2", x0 + pw - tl).attr("stroke", "#000").attr("stroke-width", 0.8);
      if (j === 0 && i > 0) {
        f.append("text").attr("x", x0 - 5).attr("y", py + 3.6).attr("text-anchor", "end")
          .attr("font-size", 10).text(tickFmt(i)(v));
      }
      if (j === 3 && i < 3) {
        f.append("text").attr("x", x0 + pw + 4.5).attr("y", py + 3.6).attr("text-anchor", "start")
          .attr("font-size", 10).text(tickFmt(i)(v));
      }
    });
  }
}

// ---- axis labels (math style) ----
const labelSpecs = [
  { main: "σ", mainItalic: true, sub: "8", sup: "0" },
  { main: "Ω", mainItalic: false, sub: "m", subItalic: true, sup: "0" },
  { main: "γ", mainItalic: true },
  { main: "H", mainItalic: true, sub: "0" }
];
function mathLabel(spec, cx, cy, angle) {
  const fs = 14.5;
  const g = svg.append("g");
  const main = g.append("text").attr("font-size", fs)
    .attr("font-style", spec.mainItalic ? "italic" : "normal").text(spec.main);
  const w = main.node().getComputedTextLength();
  if (spec.sub) g.append("text").attr("x", w + 0.5).attr("y", 3.6).attr("font-size", fs * 0.7)
    .attr("font-style", spec.subItalic ? "italic" : "normal").text(spec.sub);
  if (spec.sup) g.append("text").attr("x", w + 0.5).attr("y", -6.8).attr("font-size", fs * 0.7).text(spec.sup);
  const bb = g.node().getBBox();
  g.attr("transform", `translate(${cx},${cy}) rotate(${angle}) translate(${-bb.x - bb.width / 2},${-bb.y - bb.height / 2})`);
}
for (let k = 0; k < 4; k++) {
  mathLabel(labelSpecs[k], marginL + (k + 0.5) * pw, 852, 0);
  if (k > 0) mathLabel(labelSpecs[k], 17.5, marginT + (k + 0.5) * ph, -90);
  if (k < 3) mathLabel(labelSpecs[k], 815, marginT + (k + 0.5) * ph, 90);
}

// ---- legend ----
const legend = svg.append("g");
legend.append("rect").attr("x", 5).attr("y", 6.5).attr("width", 820).attr("height", 26)
  .attr("rx", 3).attr("fill", "#fff").attr("stroke", "#cccccc").attr("stroke-width", 0.9);
const legendX = [13, 147.5, 273, 400, 554, 696];
const legendKeys = [...gpKeys, ...lcKeys];
legendKeys.forEach((k, n) => {
  const lx = legendX[n], ly = 19.5;
  if (gpStyle[k]) {
    legend.append("rect").attr("x", lx).attr("y", ly - 5).attr("width", 25).attr("height", 10).attr("fill", gpStyle[k].color);
  } else {
    const st = lcStyle[k];
    legend.append("line").attr("x1", lx).attr("x2", lx + 25).attr("y1", ly).attr("y2", ly)
      .attr("stroke", st.color).attr("stroke-width", Math.min(st.width, 2)).attr("stroke-dasharray", st.dash);
  }
  legend.append("text").attr("x", lx + 33).attr("y", ly + 4).attr("font-size", 11).text(seriesNames[k]);
});
</script>
</body>
</html>
